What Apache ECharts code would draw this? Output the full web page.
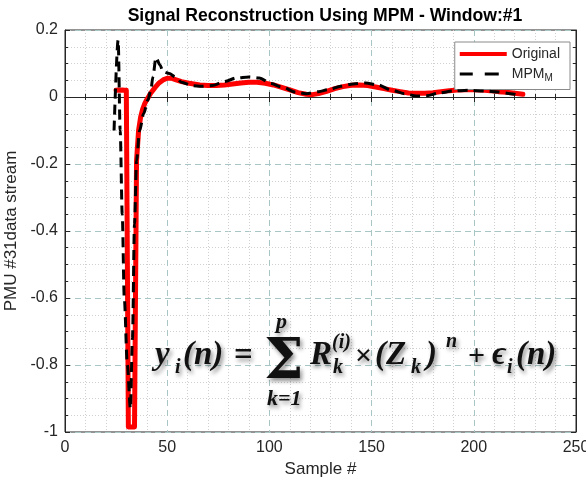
<!DOCTYPE html>
<html>
<head>
<meta charset="utf-8">
<script src="https://cdn.jsdelivr.net/npm/echarts@6/dist/echarts.min.js"></script>
<style>
  html, body { margin: 0; padding: 0; background: #ffffff; }
  #chart { width: 586px; height: 481px; }
</style>
</head>
<body>
<div id="chart"></div>
<script>
// Measured PMU #31 stream (window #1)
const origSample = [25, 26, 27, 28, 29, 30, 31, 32, 33, 34, 35, 36, 37, 38, 39, 40, 42, 44, 46, 48, 50, 52, 54, 57, 60, 63, 66, 70, 74, 78, 82, 86, 90, 94, 98, 102, 106, 110, 114, 118, 121, 124, 128, 132, 136, 140, 144, 148, 152, 156, 160, 164, 168, 172, 176, 180, 184, 188, 192, 196, 200, 204, 208, 212, 216, 220, 224];
const origValue = [0.02, 0.021, 0.02, 0.021, 0.02, 0.02, -0.985, -0.985, -0.985, -0.985, -0.19, -0.1, -0.06, -0.036, -0.02, -0.008, 0.012, 0.028, 0.042, 0.051, 0.056, 0.056, 0.052, 0.046, 0.042, 0.039, 0.036, 0.034, 0.034, 0.036, 0.039, 0.042, 0.044, 0.044, 0.041, 0.036, 0.029, 0.021, 0.013, 0.008, 0.007, 0.01, 0.017, 0.025, 0.031, 0.035, 0.036, 0.034, 0.03, 0.025, 0.02, 0.016, 0.012, 0.011, 0.011, 0.013, 0.016, 0.019, 0.021, 0.022, 0.022, 0.021, 0.019, 0.016, 0.014, 0.011, 0.008];

// Matrix-pencil reconstruction of the same window
const mpmSample = [24, 26, 27, 28, 29, 30.5, 32, 33, 34, 35, 36.5, 38.5, 40.5, 42, 43, 44.5, 46.5, 48, 51, 54, 57, 62, 67, 72, 78, 84, 90, 95, 101, 106, 113, 118, 124, 129, 135, 141, 147, 153, 160, 166, 172, 177, 183, 190, 197, 205, 212, 218, 223];
const mpmValue = [-0.1, 0.17, -0.1, -0.35, -0.6, -0.8, -0.93, -0.72, -0.38, -0.19, -0.1, -0.05, -0.01, 0.02, 0.06, 0.118, 0.095, 0.075, 0.07, 0.06, 0.044, 0.034, 0.032, 0.034, 0.046, 0.057, 0.06, 0.057, 0.04, 0.03, 0.014, 0.01, 0.016, 0.022, 0.032, 0.039, 0.042, 0.036, 0.02, 0.01, 0.003, 0.004, 0.012, 0.018, 0.02, 0.018, 0.015, 0.01, 0.004];

const seriesNames = ['Original', 'MPM'];

const AXIS_COLOR = '#262626';
const FONT = 'Liberation Sans, Arial, sans-serif';
const MATH_FONT = 'Liberation Serif, DejaVu Serif, serif';

const pair = (xs, ys) => xs.map((x, i) => [x, ys[i]]);

const majorSplit = { show: true, lineStyle: { color: '#a8c6c6', type: [6, 4], width: 1 } };
const minorSplit = { show: true, lineStyle: { color: '#d0d0d0', type: [1, 2], width: 1 } };

function xAxisCfg(pos, withLabels) {
  return {
    type: 'value', position: pos, min: 0, max: 250, interval: 50,
    axisLine: { show: true, lineStyle: { color: AXIS_COLOR, width: 1 } },
    axisTick: { show: true, inside: true, length: 5, lineStyle: { color: AXIS_COLOR } },
    minorTick: { show: true, splitNumber: 5, length: 3, lineStyle: { color: AXIS_COLOR } },
    splitLine: withLabels ? majorSplit : { show: false },
    minorSplitLine: withLabels ? minorSplit : { show: false },
    axisLabel: { show: withLabels, color: AXIS_COLOR, fontFamily: FONT, fontSize: 16, margin: 8 },
    name: withLabels ? 'Sample #' : '',
    nameLocation: 'middle', nameGap: 27,
    nameTextStyle: { color: AXIS_COLOR, fontFamily: FONT, fontSize: 17 }
  };
}

function yAxisCfg(pos, withLabels) {
  return {
    type: 'value', position: pos, min: -1, max: 0.2, interval: 0.2,
    axisLine: { show: true, onZero: false, lineStyle: { color: AXIS_COLOR, width: 1 } },
    axisTick: { show: true, inside: true, length: 5, lineStyle: { color: AXIS_COLOR } },
    minorTick: { show: true, splitNumber: 4, length: 3, lineStyle: { color: AXIS_COLOR } },
    splitLine: withLabels ? majorSplit : { show: false },
    minorSplitLine: withLabels ? minorSplit : { show: false },
    axisLabel: {
      show: withLabels, color: AXIS_COLOR, fontFamily: FONT, fontSize: 16, margin: 7,
      formatter: v => String(+v.toFixed(1))
    },
    name: withLabels ? 'PMU #31data stream' : '',
    nameLocation: 'middle', nameGap: 42, nameRotate: 90,
    nameTextStyle: { color: AXIS_COLOR, fontFamily: FONT, fontSize: 17 }
  };
}

// Formula pieces: [text, x, y, size, italic]
const MAIN = 33, SUB = 20;
const formulaParts = [
  ['y', 155, 355, MAIN, true],
  ['i', 175, 368, SUB, true],
  ['(n)', 183, 355, MAIN, true],
  ['=', 234, 356, MAIN, false],
  ['p', 276, 322, SUB + 2, true],
  ['k=1', 267, 399, SUB + 2, true],
  ['R', 310, 355, MAIN, true],
  ['(i)', 332, 343, SUB, true],
  ['k', 333, 368, SUB, true],
  ['×', 355, 357, 30, false],
  ['(Z', 375, 355, MAIN, true],
  ['k', 411, 368, SUB, true],
  [')', 426, 355, MAIN, true],
  ['n', 446, 342, SUB, true],
  ['+', 468, 357, 30, false],
  ['ϵ', 492, 355, MAIN, true],
  ['i', 507, 368, SUB, true],
  ['(n)', 516, 355, MAIN, true]
];

const shadow = {
  textShadowColor: 'rgba(0,0,0,0.45)', textShadowBlur: 4,
  textShadowOffsetX: 2, textShadowOffsetY: 3
};

const formulaGraphics = formulaParts.map(([t, x, y, size, italic]) => ({
  type: 'text', x: x, y: y, z: 100,
  style: Object.assign({
    text: t, fill: '#111111', fontFamily: MATH_FONT, fontWeight: 'bold',
    fontStyle: italic ? 'italic' : 'normal', fontSize: size,
    align: 'left', verticalAlign: 'middle'
  }, shadow)
}));

// Summation sign
formulaGraphics.push({
  type: 'text', x: 264, y: 363, z: 100,
  style: Object.assign({
    text: 'Σ', fill: '#111111', fontFamily: 'DejaVu Serif, serif', fontWeight: 'bold',
    fontSize: 56, align: 'left', verticalAlign: 'middle'
  }, shadow)
});

// Legend samples: solid bar and two dashes, both in a 47x5 box
const ICON_SOLID = 'path://M0,0.5H47V4.5H0Z';
const ICON_DASH = 'path://M0,0H0.01V0.01H0Z M47,5H46.99V4.99H47Z M0,1H13V4H0Z M25,1H39V4H25Z';

const chart = echarts.init(document.getElementById('chart'), null, { renderer: 'canvas' });

chart.setOption({
  backgroundColor: '#ffffff',
  animation: false,
  title: {
    text: 'Signal Reconstruction Using MPM - Window:#1',
    left: 320, top: 2, textAlign: 'center',
    textStyle: { color: '#000000', fontFamily: FONT, fontSize: 17.6, fontWeight: 'bold' }
  },
  grid: {
    left: 65, right: 10, top: 30, bottom: 49,
    containLabel: false, outerBoundsMode: 'none',
    show: true, borderColor: AXIS_COLOR, borderWidth: 1, backgroundColor: '#ffffff'
  },
  legend: {
    data: [
      { name: seriesNames[0], icon: ICON_SOLID, itemStyle: { color: '#ff0000' } },
      { name: seriesNames[1], icon: ICON_DASH, itemStyle: { color: '#000000' } }
    ],
    right: 16, top: 42, orient: 'vertical',
    backgroundColor: '#ffffff', borderColor: '#8a8a8a', borderWidth: 1,
    padding: [4, 10, 6, 5], itemGap: 4, itemWidth: 47, itemHeight: 5,
    formatter: name => name === 'MPM' ? 'MPM{sub|M}' : name,
    textStyle: {
      color: AXIS_COLOR, fontFamily: FONT, fontSize: 14, lineHeight: 16,
      rich: { sub: { fontFamily: FONT, fontSize: 10, color: AXIS_COLOR, padding: [9, 0, 0, 0] } }
    }
  },
  xAxis: [xAxisCfg('bottom', true), xAxisCfg('top', false)],
  yAxis: [yAxisCfg('left', true), yAxisCfg('right', false)],
  series: [
    {
      name: 'Original', type: 'line', data: pair(origSample, origValue),
      showSymbol: false, symbol: 'none',
      lineStyle: { color: '#ff0000', width: 5, join: 'round', cap: 'round' },
      itemStyle: { color: '#ff0000' }, z: 3
    },
    {
      name: 'MPM', type: 'line', data: pair(mpmSample, mpmValue),
      showSymbol: false, symbol: 'none', smooth: 0.3, smoothMonotone: 'x',
      lineStyle: { color: '#000000', width: 3, type: [10, 6] },
      itemStyle: { color: '#000000' }, z: 4
    }
  ],
  graphic: formulaGraphics
});
</script>
</body>
</html>
